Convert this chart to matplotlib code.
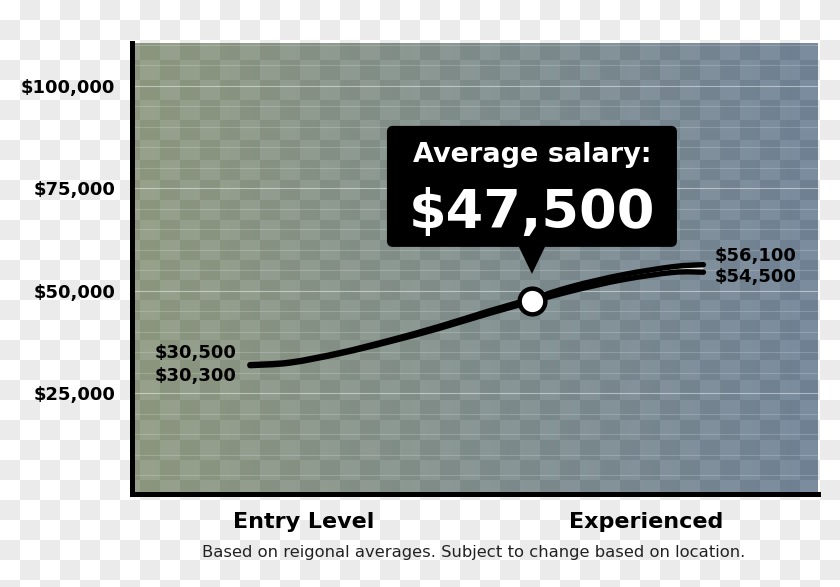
import matplotlib
matplotlib.use("Agg")
import numpy as np
import matplotlib.pyplot as plt
import matplotlib.transforms as mtransforms
from matplotlib.patches import FancyBboxPatch, Polygon, PathPatch
from matplotlib.path import Path

# ---------------- data ----------------
stage_ticks = [25, 75]
stage_labels = ["Entry Level", "Experienced"]

path_x = [17.2, 23.0, 30.3, 37.6, 44.9, 52.2, 58.3, 64.3, 71.6, 78.9, 83.3]
upper_salary = [31950, 32560, 34880, 37930, 41340, 45120, 48050, 51100, 53900, 55850, 56340]
lower_salary = [31710, 32320, 34630, 37560, 40850, 44510, 47320, 50000, 52680, 54450, 54500]

avg_x = 58.3
avg_salary = 47500
avg_title = "Average salary:"
avg_text = "$47,500"

y_ticks = [25000, 50000, 75000, 100000]
y_labels = ["$25,000", "$50,000", "$75,000", "$100,000"]
grid_values = list(range(5000, 110001, 5000))

start_labels = ["$30,500", "$30,300"]
start_label_y = [34760, 29150]
end_labels = ["$56,100", "$54,500"]
end_label_y = [58410, 53290]

footnote = "Based on reigonal averages. Subject to change based on location."


def smooth_segments(xs, ys):
    """Catmull-Rom through the read points, as cubic Bezier vertices."""
    pts = np.column_stack([xs, ys]).astype(float)
    ext = np.vstack([pts[0], pts, pts[-1]])
    verts = [tuple(pts[0])]
    for i in range(len(pts) - 1):
        p0, p1, p2, p3 = ext[i], ext[i + 1], ext[i + 2], ext[i + 3]
        c1 = p1 + (p2 - p0) / 6.0
        c2 = p2 - (p3 - p1) / 6.0
        verts += [tuple(c1), tuple(c2), tuple(p2)]
    return verts


# ---------------- figure ----------------
W, H = 840, 587
fig = plt.figure(figsize=(W / 100, H / 100), dpi=100)
fig.patch.set_alpha(0)
plt.rcParams["font.family"] = ["DejaVu Sans"]

# checkerboard figure background
yy, xx = np.mgrid[0:H, 0:W]
par = ((xx // 20) + (yy // 20)) % 2
bg = np.where(par[..., None] == 1, 235, 255).astype(np.uint8).repeat(3, axis=2)
fig.figimage(bg, 0, 0, origin="upper", zorder=-10)

ax_l, ax_t, ax_r, ax_b = 132, 43, 818, 494
ax = fig.add_axes([ax_l / W, 1 - ax_b / H, (ax_r - ax_l) / W, (ax_b - ax_t) / H])
ax.set_zorder(1)
ax.patch.set_visible(False)

# gradient + checker plot area
aw, ah = ax_r - ax_l, ax_b - ax_t
ry, rx = np.mgrid[0:ah, 0:aw]
p = (((rx + ax_l) // 20) + ((ry + ax_t) // 20)) % 2
t = (rx / (aw - 1))[..., None]
left_light = np.array([151, 161, 138]); left_dark = np.array([140, 150, 126])
right_light = np.array([123, 140, 160]); right_dark = np.array([111, 128, 148])
light = left_light * (1 - t) + right_light * t
dark = left_dark * (1 - t) + right_dark * t
img = np.where(p[..., None] == 0, light, dark) / 255.0
ax.imshow(img, extent=(0, 1, 0, 1), transform=ax.transAxes, aspect="auto",
          zorder=0, interpolation="nearest")

ax.set_xlim(0, 100)
ax.set_ylim(400, 110400)

for v in grid_values:
    major = v % 25000 == 0
    ax.axhline(v, color="white", lw=0.8, alpha=0.45 if major else 0.18, zorder=1)

# smooth salary curves
up_v = smooth_segments(path_x, upper_salary)
lo_v = smooth_segments(path_x, lower_salary)
n = len(up_v)
codes_open = [Path.MOVETO] + [Path.CURVE4] * (n - 1)

# light gap between the two curves
gap_verts = up_v + [lo_v[-1]] + lo_v[::-1][1:] + [up_v[0]]
gap_codes = [Path.MOVETO] + [Path.CURVE4] * (n - 1) + [Path.LINETO] + \
            [Path.CURVE4] * (n - 1) + [Path.CLOSEPOLY]
ax.add_patch(PathPatch(Path(gap_verts, gap_codes), fc="#dedede", ec="none", zorder=2))

lw = 3.9
for verts in (lo_v, up_v):
    ax.add_patch(PathPatch(Path(verts, codes_open), fill=False, ec="black", lw=lw,
                           capstyle="round", joinstyle="round", zorder=3))

ax.plot([avg_x], [avg_salary], "o", ms=18.5, mfc="white", mec="black", mew=3.2, zorder=5)

# callout (pixel offsets around average point)
trans = mtransforms.ScaledTranslation(avg_x, avg_salary, ax.transData)
box = FancyBboxPatch((-145, 54), 290, 121, boxstyle="round,pad=0,rounding_size=6",
                     fc="black", ec="none", transform=trans, zorder=6, clip_on=False)
ax.add_patch(box)
tri = Polygon([(-15, 58), (15, 58), (0, 27)], closed=True, fc="black", ec="none",
              transform=trans, zorder=6, clip_on=False)
ax.add_patch(tri)
ax.text(0, 139, avg_title, transform=trans, ha="center", va="baseline", color="white",
        fontsize=19.5, fontweight="bold", zorder=7)
ax.text(0, 73, avg_text, transform=trans, ha="center", va="baseline", color="white",
        fontsize=39, fontweight="bold", zorder=7)

# data labels
for lab, yv in zip(start_labels, start_label_y):
    ax.text(15.3, yv, lab, ha="right", va="center", fontsize=13, fontweight="bold",
            color="black", zorder=4)
for lab, yv in zip(end_labels, end_label_y):
    ax.text(85.0, yv, lab, ha="left", va="center", fontsize=13, fontweight="bold",
            color="black", zorder=4)

# axes styling
for s in ["top", "right"]:
    ax.spines[s].set_visible(False)
for s in ["left", "bottom"]:
    ax.spines[s].set_linewidth(3.6)
    ax.spines[s].set_color("black")
    ax.spines[s].set_capstyle("projecting")
    ax.spines[s].set_zorder(8)

ax.set_yticks(y_ticks)
ax.set_yticklabels(y_labels, fontsize=13, fontweight="bold")
ax.set_xticks(stage_ticks)
ax.set_xticklabels(stage_labels, fontsize=16, fontweight="bold")
ax.tick_params(axis="y", length=0, pad=12)
ax.tick_params(axis="x", length=0, pad=13)

fig.text(474 / W, 1 - 552 / H, footnote, ha="center", va="center", fontsize=11.8,
         color="#222222")

fig.savefig("out.png", dpi=100)
